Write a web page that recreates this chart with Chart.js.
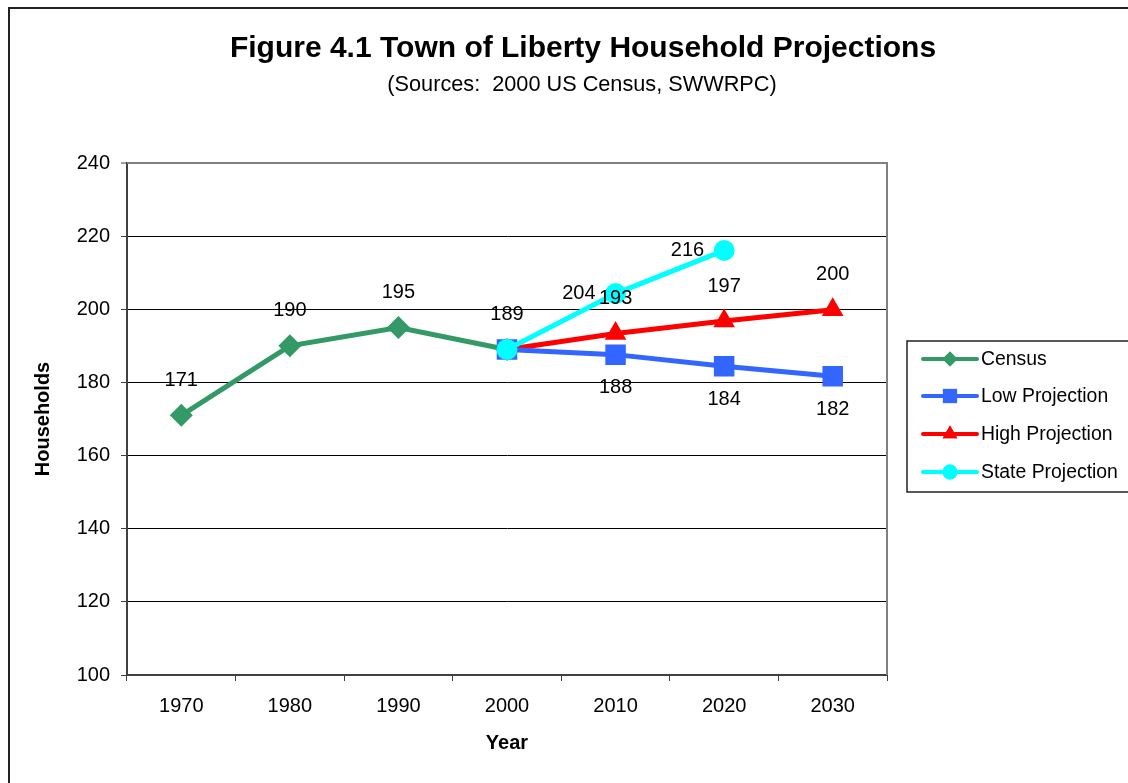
<!DOCTYPE html>
<html>
<head>
<meta charset="utf-8">
<title>Figure 4.1 Town of Liberty Household Projections</title>
<script src="https://cdn.jsdelivr.net/npm/chart.js@4.4.1/dist/chart.umd.min.js"></script>
<style>
    html, body { margin: 0; padding: 0; background: #fff; }
    #chartWrap { width: 1128px; height: 783px; }
</style>
</head>
<body>
<div id="chartWrap">
    <canvas id="householdChart" width="1128" height="783"></canvas>
</div>
<script>
// ---------------------------------------------------
// DATA
// ---------------------------------------------------
const years = ["1970", "1980", "1990", "2000", "2010", "2020", "2030"];

const censusValues = [171, 190, 195, 189, null, null, null];
const lowValues    = [null, null, null, 189, 187.6, 184.4, 181.7];
const highValues   = [null, null, null, 189, 193.4, 196.8, 199.9];
const stateValues  = [null, null, null, 189, 204.3, 216.1, null];

const yTicks = [100, 120, 140, 160, 180, 200, 220, 240];

const FONT = "'Liberation Sans', Arial, sans-serif";

// series look + where its value labels sit
const seriesStyle = [
    { name: "Census",           data: censusValues, color: "#339966", point: "rectRot",  radius: 11.5, legendRadius: 7.5, labelPos: "above", skip: [] },
    { name: "Low Projection",   data: lowValues,    color: "#3366FF", point: "rect",     radius: 14.5, legendRadius: 10,  labelPos: "below", skip: [3] },
    { name: "High Projection",  data: highValues,   color: "#FF0000", point: "triangle", radius: 12.5, legendRadius: 8.5, labelPos: "above", skip: [3] },
    { name: "State Projection", data: stateValues,  color: "#00FFFF", point: "circle",   radius: 10.5, legendRadius: 7.5, labelPos: "left",  skip: [3] }
];

// drawing order: census at bottom, state on top
const drawOrder = [4, 2, 3, 1];


// ---------------------------------------------------
// PLUGINS
// ---------------------------------------------------
const frameAndTitle = {
    id: "frameAndTitle",
    beforeDraw(chart) {
        const ctx = chart.ctx;
        ctx.save();
        ctx.fillStyle = "#fff";
        ctx.fillRect(0, 0, chart.width, chart.height);
        ctx.strokeStyle = "#222";
        ctx.lineWidth = 2;
        ctx.strokeRect(9, 8, 1300, 1000);

        ctx.fillStyle = "#000";
        ctx.textAlign = "center";
        ctx.textBaseline = "alphabetic";
        ctx.font = "bold 30px " + FONT;
        ctx.fillText("Figure 4.1 Town of Liberty Household Projections", 583, 57);
        ctx.font = "21.7px " + FONT;
        ctx.fillText("(Sources:  2000 US Census, SWWRPC)", 582, 91);
        ctx.restore();
    },
    beforeDatasetsDraw(chart) {
        // grey plot-area border on top and right
        const a = chart.chartArea;
        const ctx = chart.ctx;
        ctx.save();
        ctx.strokeStyle = "#808080";
        ctx.lineWidth = 2;
        ctx.beginPath();
        ctx.moveTo(a.left, a.top);
        ctx.lineTo(a.right, a.top);
        ctx.lineTo(a.right, a.bottom);
        ctx.stroke();
        ctx.restore();
    }
};

const valueLabels = {
    id: "valueLabels",
    afterDatasetsDraw(chart) {
        const ctx = chart.ctx;
        ctx.save();
        ctx.fillStyle = "#000";
        ctx.font = "20px " + FONT;
        ctx.textBaseline = "middle";

        seriesStyle.forEach((s, i) => {
            const meta = chart.getDatasetMeta(i);
            s.data.forEach((v, idx) => {
                if (v === null || s.skip.includes(idx)) return;
                const pt = meta.data[idx];
                const txt = String(Math.round(v));
                if (s.labelPos === "above") {
                    ctx.textAlign = "center";
                    ctx.fillText(txt, pt.x, pt.y - 35);
                } else if (s.labelPos === "below") {
                    ctx.textAlign = "center";
                    ctx.fillText(txt, pt.x, pt.y + 33);
                } else {
                    ctx.textAlign = "right";
                    ctx.fillText(txt, pt.x - 20, pt.y);
                }
            });
        });
        ctx.restore();
    }
};

const excelLegend = {
    id: "excelLegend",
    afterDraw(chart) {
        const ctx = chart.ctx;
        ctx.save();
        ctx.strokeStyle = "#222";
        ctx.lineWidth = 1.5;
        ctx.strokeRect(907, 341, 300, 151);

        const rowY = [359, 396, 434, 472];
        seriesStyle.forEach((s, i) => {
            const y = rowY[i];
            ctx.strokeStyle = s.color;
            ctx.lineWidth = 4;
            ctx.lineCap = "round";
            ctx.beginPath();
            ctx.moveTo(923, y);
            ctx.lineTo(977, y);
            ctx.stroke();

            ctx.fillStyle = s.color;
            Chart.helpers.drawPoint(ctx, {
                pointStyle: s.point,
                radius: s.legendRadius,
                borderWidth: 0
            }, 950, y);
            ctx.fill();

            ctx.fillStyle = "#000";
            ctx.font = "19.4px " + FONT;
            ctx.textAlign = "left";
            ctx.textBaseline = "middle";
            ctx.fillText(s.name, 981, y + 1);
        });
        ctx.restore();
    }
};


// ---------------------------------------------------
// CHART
// ---------------------------------------------------
const datasets = seriesStyle.map((s, i) => ({
    label: s.name,
    data: s.data,
    borderColor: s.color,
    backgroundColor: s.color,
    borderWidth: 5,
    pointStyle: s.point,
    // the red triangle hides behind the blue square at 2000
    pointRadius: c => (s.point === "triangle" && c.dataIndex === 3) ? 0 : s.radius,
    pointHoverRadius: s.radius,
    pointBorderWidth: 0,
    pointBackgroundColor: s.color,
    tension: 0,
    order: drawOrder[i]
}));

new Chart(document.getElementById("householdChart"), {
    type: "line",
    data: { labels: years, datasets },
    options: {
        responsive: false,
        animation: false,
        devicePixelRatio: 1,
        layout: { padding: { left: 0, top: 163, right: 241, bottom: 0 } },
        plugins: {
            legend: { display: false },
            title: { display: false },
            tooltip: { enabled: false }
        },
        scales: {
            x: {
                offset: true,
                grid: {
                    offset: true,
                    drawOnChartArea: false,
                    tickLength: 6,
                    tickColor: "#404040",
                    tickWidth: 1
                },
                border: { color: "#404040", width: 2 },
                ticks: { color: "#000", font: { family: FONT, size: 20 }, padding: 13, maxRotation: 0 },
                title: {
                    display: true,
                    text: "Year",
                    color: "#000",
                    font: { family: FONT, size: 20, weight: "bold" },
                    padding: { top: 0, bottom: 28 }
                },
                afterFit(scale) { scale.height = 108; }
            },
            y: {
                min: yTicks[0],
                max: yTicks[yTicks.length - 1],
                afterBuildTicks(scale) { scale.ticks = yTicks.map(v => ({ value: v })); },
                grid: {
                    color: c => (c.tick && c.tick.value === 240) ? "#808080" : "#000",
                    lineWidth: c => (c.tick && c.tick.value === 240) ? 2 : 1,
                    tickLength: 6,
                    tickColor: "#404040",
                    tickWidth: 1
                },
                border: { color: "#404040", width: 2 },
                ticks: { color: "#000", font: { family: FONT, size: 20 }, padding: 11 },
                title: {
                    display: true,
                    text: "Households",
                    color: "#000",
                    font: { family: FONT, size: 20, weight: "bold" },
                    padding: { top: 31, bottom: 0 }
                },
                afterFit(scale) { scale.width = 127; }
            }
        }
    },
    plugins: [frameAndTitle, valueLabels, excelLegend]
});
</script>
</body>
</html>
